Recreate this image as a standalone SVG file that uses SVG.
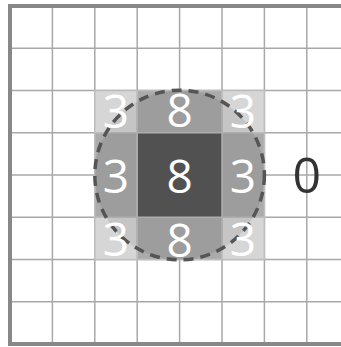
<svg xmlns="http://www.w3.org/2000/svg" width="341" height="347" viewBox="0 0 341 347">
<style>
.grid line{stroke:#a8a8a8;stroke-width:1.5}
.sep{fill:none;stroke:#bdbdbd;stroke-width:1.5}
.corner{fill:#d6d6d6}
.edge{fill:#ababab}
.center{fill:#585858}
.num{font-family:"Open Sans","DejaVu Sans",sans-serif;font-size:46px;fill:#ffffff;text-anchor:middle}
.zero{font-family:"Open Sans","DejaVu Sans",sans-serif;font-size:50px;fill:#333333;text-anchor:middle}
</style>
<rect x="0" y="0" width="341" height="347" fill="#ffffff"/>
<g id="grid" class="grid">
<line x1="52.4" y1="6" x2="52.4" y2="344"/>
<line x1="94.8" y1="6" x2="94.8" y2="344"/>
<line x1="137.2" y1="6" x2="137.2" y2="344"/>
<line x1="179.6" y1="6" x2="179.6" y2="344"/>
<line x1="222" y1="6" x2="222" y2="344"/>
<line x1="264.4" y1="6" x2="264.4" y2="344"/>
<line x1="306.8" y1="6" x2="306.8" y2="344"/>
<line x1="10" y1="48.25" x2="341" y2="48.25"/>
<line x1="10" y1="90.5" x2="341" y2="90.5"/>
<line x1="10" y1="132.75" x2="341" y2="132.75"/>
<line x1="10" y1="175" x2="341" y2="175"/>
<line x1="10" y1="217.25" x2="341" y2="217.25"/>
<line x1="10" y1="259.5" x2="341" y2="259.5"/>
<line x1="10" y1="301.75" x2="341" y2="301.75"/>
</g>
<g id="border">
<path d="M341 6 H10 V344 H341" fill="none" stroke="#888888" stroke-width="4"/>
</g>
<g id="cell-tl"><rect class="corner" x="94.8" y="90.5" width="42.4" height="42.25"/><rect class="sep" x="94.8" y="90.5" width="42.4" height="42.25"/></g>
<g id="cell-tr"><rect class="corner" x="222" y="90.5" width="42.4" height="42.25"/><rect class="sep" x="222" y="90.5" width="42.4" height="42.25"/></g>
<g id="cell-bl"><rect class="corner" x="94.8" y="217.25" width="42.4" height="42.25"/><rect class="sep" x="94.8" y="217.25" width="42.4" height="42.25"/></g>
<g id="cell-br"><rect class="corner" x="222" y="217.25" width="42.4" height="42.25"/><rect class="sep" x="222" y="217.25" width="42.4" height="42.25"/></g>
<g id="cell-t"><rect class="edge" x="137.2" y="90.5" width="84.8" height="42.25"/><rect class="sep" x="137.2" y="90.5" width="84.8" height="42.25"/></g>
<g id="cell-b"><rect class="edge" x="137.2" y="217.25" width="84.8" height="42.25"/><rect class="sep" x="137.2" y="217.25" width="84.8" height="42.25"/></g>
<g id="cell-l"><rect class="edge" x="94.8" y="132.75" width="42.4" height="84.5"/><rect class="sep" x="94.8" y="132.75" width="42.4" height="84.5"/></g>
<g id="cell-r"><rect class="edge" x="222" y="132.75" width="42.4" height="84.5"/><rect class="sep" x="222" y="132.75" width="42.4" height="84.5"/></g>
<g id="cell-c"><rect class="center" x="137.2" y="132.75" width="84.8" height="84.5"/><rect class="sep" x="137.2" y="132.75" width="84.8" height="84.5"/></g>
<g id="circle">
<circle cx="179.6" cy="175" r="84.8" fill="#000000" fill-opacity="0.08" stroke="#555555" stroke-width="3.5" stroke-dasharray="10 7"/>
</g>
<g id="labels">
<text class="num" x="116" y="127.5">3</text>
<text class="num" x="179.6" y="127">8</text>
<text class="num" x="243" y="127.5">3</text>
<text class="num" x="116" y="192.5">3</text>
<text class="num" x="179.6" y="192.5">8</text>
<text class="num" x="243" y="192.5">3</text>
<text class="num" x="116" y="256">3</text>
<text class="num" x="179.6" y="256.5">8</text>
<text class="num" x="243" y="256">3</text>
<text class="zero" x="306.8" y="193">0</text>
</g>
</svg>
